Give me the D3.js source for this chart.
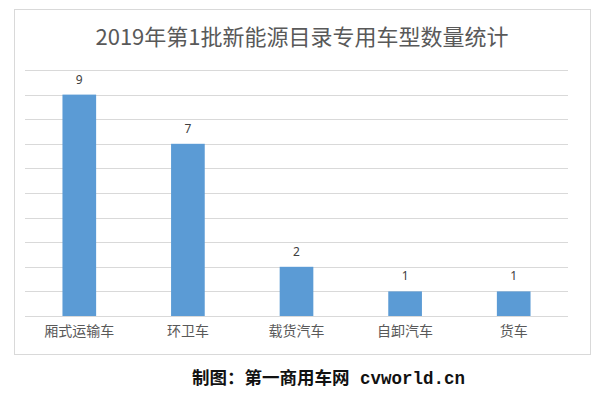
<!DOCTYPE html>
<html>
<head>
<meta charset="utf-8">
<script src="https://cdn.jsdelivr.net/npm/d3@7"></script>
<style>
  body { margin: 0; background: #fff; }
</style>
</head>
<body>
<div id="chart"></div>
<script>
const categories = ["厢式运输车", "环卫车", "载货汽车", "自卸汽车", "货车"];
const values = [9, 7, 2, 1, 1];
const yTicks = [0, 1, 2, 3, 4, 5, 6, 7, 8, 9, 10];

const svg = d3.select("#chart")
  .append("svg")
  .attr("width", 600)
  .attr("height", 395);

// chart frame
svg.append("rect")
  .attr("x", 14.5).attr("y", 9.5)
  .attr("width", 576).attr("height", 345)
  .attr("fill", "#fff")
  .attr("stroke", "#d9d9d9");

const x = d3.scaleBand()
  .domain(categories)
  .range([25, 568])
  .paddingInner(0.69)
  .paddingOuter(0.345);

const y = d3.scaleLinear()
  .domain([0, 10])
  .range([316, 70]);

// gridlines
svg.append("g")
  .selectAll("line")
  .data(yTicks)
  .enter()
  .append("line")
  .attr("x1", 25).attr("x2", 568)
  .attr("y1", d => Math.round(y(d)) + 0.5)
  .attr("y2", d => Math.round(y(d)) + 0.5)
  .attr("stroke", "#d9d9d9");

svg.append("g")
  .selectAll("rect")
  .data(values)
  .enter()
  .append("rect")
  .attr("x", (d, i) => x(categories[i]))
  .attr("y", d => y(d))
  .attr("width", x.bandwidth())
  .attr("height", d => y(0) - y(d))
  .attr("fill", "#5b9bd5");

// value labels
svg.append("g")
  .selectAll("text")
  .data(values)
  .enter()
  .append("text")
  .attr("x", (d, i) => x(categories[i]) + x.bandwidth() / 2)
  .attr("y", d => y(d) - 11)
  .attr("text-anchor", "middle")
  .attr("font-family", "'Noto Sans', 'Noto Sans CJK SC', sans-serif")
  .attr("font-size", 12)
  .attr("fill", "#404040")
  .text(d => d);

// category axis
const xAxis = svg.append("g")
  .attr("transform", "translate(0,316)")
  .call(d3.axisBottom(x).tickSize(0).tickPadding(10));
xAxis.select(".domain").remove();
xAxis.selectAll("text")
  .attr("font-family", "'Noto Sans CJK SC', sans-serif")
  .attr("font-size", 14)
  .attr("fill", "#595959");

svg.append("text")
  .attr("x", 302)
  .attr("y", 45)
  .attr("text-anchor", "middle")
  .attr("font-family", "'Noto Sans CJK SC', sans-serif")
  .attr("font-size", 22)
  .attr("fill", "#595959")
  .text("2019年第1批新能源目录专用车型数量统计");

svg.append("text")
  .attr("x", 192)
  .attr("y", 384)
  .attr("font-family", "'Liberation Mono', 'Noto Sans CJK SC', monospace")
  .attr("font-size", 17.5)
  .attr("font-weight", "bold")
  .attr("fill", "#111")
  .text("制图：第一商用车网 cvworld.cn");
</script>
</body>
</html>
